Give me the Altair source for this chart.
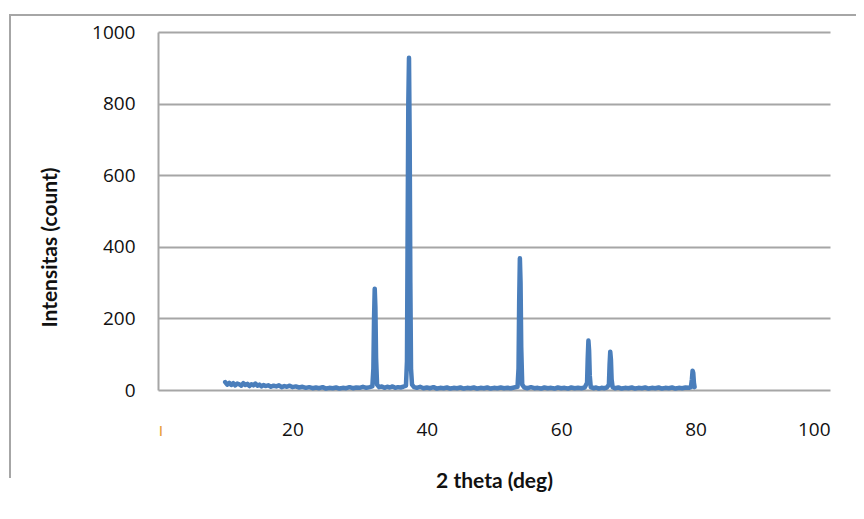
import altair as alt
import pandas as pd

two_theta = [
    10.0, 10.3, 10.6, 10.9, 11.2, 11.5, 11.8, 12.1, 12.4, 12.7, 13.0, 13.3, 13.6, 13.9,
    14.2, 14.5, 14.8, 15.1, 15.4, 15.7, 16.0, 16.4, 16.8, 17.2, 17.6, 18.0, 18.4, 18.8,
    19.2, 19.6, 20.0, 20.5, 21.0, 21.5, 22.0, 22.5, 23.0, 23.5, 24.0, 24.5, 25.0, 25.5,
    26.0, 26.5, 27.0, 27.5, 28.0, 28.5, 29.0, 29.5, 30.0, 30.5, 31.0, 31.5, 31.9,
    32.05, 32.15, 32.25, 32.35, 32.45, 32.6, 32.9, 33.3, 33.7, 34.1, 34.5, 34.9, 35.3,
    35.7, 36.1, 36.5, 36.9, 37.05, 37.15, 37.25, 37.35, 37.45, 37.55, 37.65, 37.8, 38.1,
    38.5, 39.0, 39.5, 40.0, 40.5, 41.0, 41.5, 42.0, 42.5, 43.0, 43.5, 44.0, 44.5, 45.0,
    45.5, 46.0, 46.5, 47.0, 47.5, 48.0, 48.5, 49.0, 49.5, 50.0, 50.5, 51.0, 51.5, 52.0,
    52.5, 53.0, 53.5, 53.65, 53.75, 53.85, 53.95, 54.05, 54.2, 54.5, 55.0, 55.5, 56.0,
    56.5, 57.0, 57.5, 58.0, 58.5, 59.0, 59.5, 60.0, 60.5, 61.0, 61.5, 62.0, 62.5, 63.0,
    63.5, 63.85, 63.95, 64.05, 64.15, 64.25, 64.4, 64.8, 65.2, 65.6, 66.0, 66.4, 66.8,
    67.1, 67.2, 67.3, 67.4, 67.5, 67.65, 68.0, 68.5, 69.0, 69.5, 70.0, 70.5, 71.0, 71.5,
    72.0, 72.5, 73.0, 73.5, 74.0, 74.5, 75.0, 75.5, 76.0, 76.5, 77.0, 77.5, 78.0, 78.5,
    79.0, 79.3, 79.45, 79.55, 79.65, 79.75, 79.85,
]
intensity = [
    22, 15, 20, 14, 19, 13, 18, 16, 12, 19, 14, 17, 11, 16,
    13, 18, 12, 15, 10, 14, 11, 13, 9, 12, 10, 13, 8, 11,
    9, 12, 8, 10, 7, 9, 6, 8, 5, 7, 5, 8, 4, 6,
    5, 7, 4, 6, 5, 8, 5, 7, 6, 9, 6, 8, 10,
    60, 200, 283, 230, 90, 15, 8, 10, 6, 9, 7, 10, 6,
    8, 7, 9, 12, 80, 450, 800, 928, 700, 300, 60, 15, 8,
    6, 9, 5, 7, 5, 8, 4, 6, 5, 7, 4, 6, 5, 7,
    4, 6, 5, 7, 4, 6, 5, 7, 4, 6, 5, 7, 5, 6,
    5, 7, 9, 60, 250, 368, 300, 120, 15, 7, 5, 8, 5,
    6, 4, 7, 5, 6, 4, 7, 5, 6, 4, 7, 5, 6, 5,
    7, 20, 90, 138, 110, 40, 8, 5, 7, 4, 6, 5, 7,
    15, 70, 107, 85, 30, 8, 5, 7, 4, 6, 5, 7, 4, 6,
    5, 7, 4, 6, 5, 7, 4, 6, 5, 7, 4, 6, 5, 7,
    6, 8, 30, 54, 48, 20, 8,
]
x_ticks = [0, 20, 40, 60, 80, 100]
y_ticks = [0, 200, 400, 600, 800, 1000]

df = pd.DataFrame({"two_theta": two_theta, "intensity": intensity})

W, H = 672, 358
GRAY = "#a6a6a6"

line = alt.Chart(df).mark_line(color="#4a7ebb", strokeWidth=4.5, strokeJoin="round", strokeCap="round").encode(
    x=alt.X(
        "two_theta:Q",
        scale=alt.Scale(domain=[0, 100], nice=False, zero=False),
        axis=alt.Axis(
            values=x_ticks,
            grid=False,
            domain=False,
            ticks=False,
            labelFont="Open Sans",
            labelFontSize=19,
            labelColor=alt.condition("datum.value == 0", alt.value("#e8a040"), alt.value("#111111")),
            labelExpr="datum.value == 0 ? 'ı' : datum.label",
            labelPadding=30,
            labelBaseline="top",
            title="2 theta (deg)",
            titleFont="Lato",
            titleFontWeight="bold",
            titleFontSize=21,
            titleColor="#111111",
            titleBaseline="middle",
            titleY=91,
        ),
    ),
    y=alt.Y(
        "intensity:Q",
        scale=alt.Scale(domain=[0, 1000], nice=False),
        axis=alt.Axis(
            values=y_ticks,
            format="d",
            grid=True,
            gridColor=GRAY,
            gridWidth=2,
            domain=True,
            domainColor=GRAY,
            domainWidth=2,
            ticks=False,
            labelFont="Open Sans",
            labelFontSize=19,
            labelColor="#111111",
            labelPadding=23,
            title="Intensitas (count)",
            titleFont="Lato",
            titleFontWeight="bold",
            titleFontSize=21,
            titleColor="#111111",
            titleAngle=270,
            titleBaseline="middle",
            titleAlign="center",
            titleX=-108,
            titleY=215,
        ),
    ),
)

border_src = pd.DataFrame({"k": [0]})
border_left = alt.Chart(border_src).mark_rect(color=GRAY).encode(
    x=alt.value(-149), x2=alt.value(-147), y=alt.value(-18), y2=alt.value(446)
)
border_top = alt.Chart(border_src).mark_rect(color=GRAY, height=2).encode(
    x=alt.value(-149), x2=alt.value(700), y=alt.value(-17)
)

chart = (
    alt.layer(border_left, border_top, line)
    .properties(
        width=W,
        height=H,
        autosize=alt.AutoSizeParams(type="none"),
        padding={"left": 150, "top": 24, "right": 26, "bottom": 120},
    )
    .configure_view(stroke=None)
)

chart.save("out.html", embed_options={"renderer": "svg", "actions": False})
